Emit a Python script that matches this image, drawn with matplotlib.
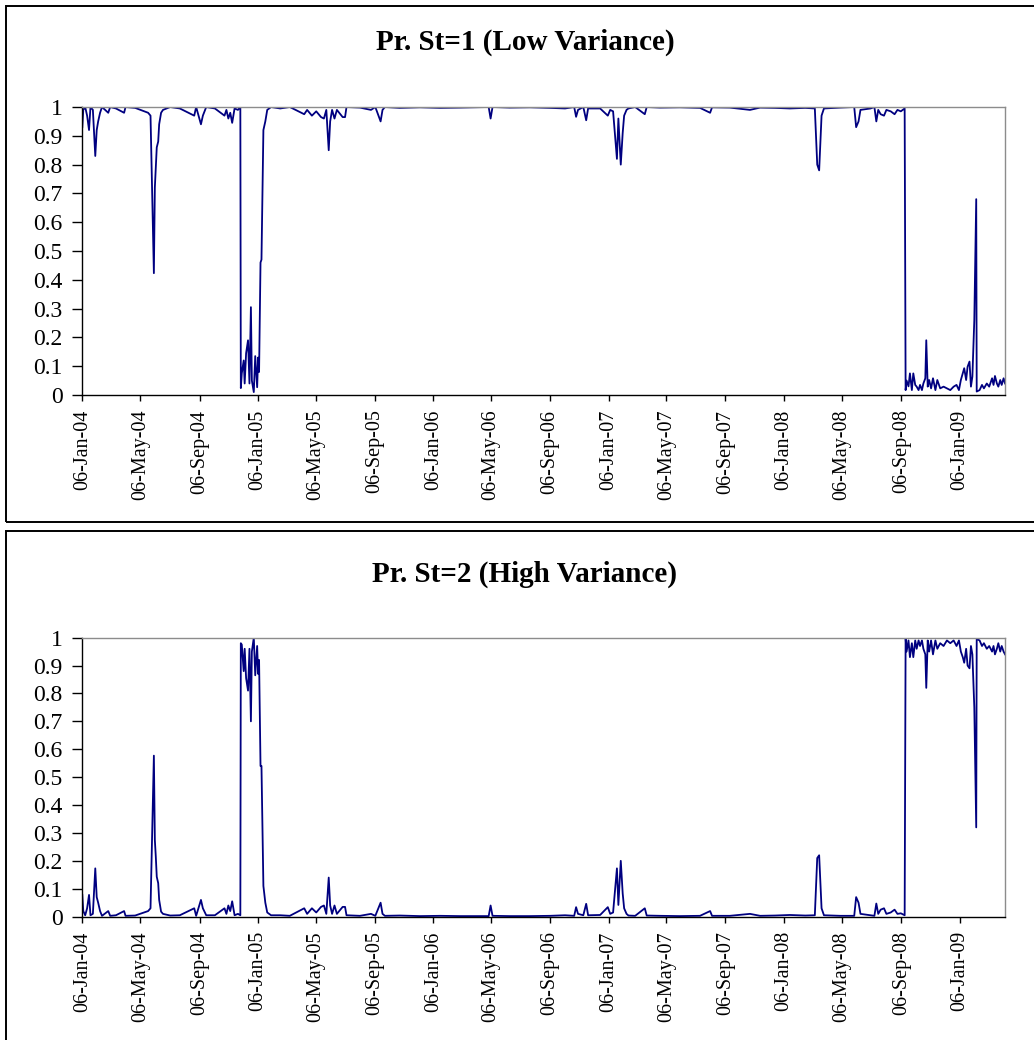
import datetime as dt

import matplotlib
matplotlib.use("Agg")
import matplotlib.pyplot as plt
from matplotlib.patches import Rectangle

plt.rcParams["font.family"] = ["Liberation Serif", "DejaVu Serif"]

# days counted from the first observation (06-Jan-04)
START = "2004-01-06"
END_DAY = 1921

days = [
    0, 2, 6, 10, 14, 17, 22, 27, 30, 33,
    37, 41, 54, 58, 70, 87, 90, 110, 137, 142,
    149, 151, 153, 155, 158, 160, 164, 168, 183, 203,
    233, 237, 247, 251, 258, 276, 296, 300, 304, 308,
    312, 317, 324, 329, 330, 332, 336, 338, 341, 345,
    348, 351, 353, 357, 360, 364, 366, 368, 371, 373,
    377, 381, 385, 393, 412, 432, 462, 468, 478, 487,
    497, 503, 508, 513, 516, 520, 525, 530, 542, 547,
    550, 578, 601, 610, 621, 625, 630, 661, 703, 745,
    786, 846, 850, 854, 890, 932, 974, 1005, 1024, 1028,
    1032, 1043, 1049, 1053, 1078, 1094, 1099, 1105, 1113, 1116,
    1121, 1125, 1128, 1133, 1137, 1151, 1171, 1175, 1203, 1244,
    1286, 1307, 1311, 1348, 1390, 1411, 1442, 1473, 1505, 1525,
    1530, 1534, 1539, 1544, 1578, 1607, 1611, 1616, 1620, 1641,
    1649, 1653, 1657, 1662, 1669, 1674, 1683, 1691, 1697, 1704,
    1712, 1714, 1716, 1720, 1723, 1727, 1730, 1734, 1737, 1741,
    1744, 1748, 1751, 1755, 1757, 1760, 1763, 1767, 1771, 1776,
    1780, 1786, 1793, 1800, 1807, 1814, 1820, 1825, 1829, 1833,
    1836, 1840, 1843, 1847, 1850, 1853, 1857, 1861, 1862, 1868,
    1873, 1877, 1883, 1888, 1894, 1897, 1900, 1904, 1907, 1911,
    1914, 1918, 1921,
]

# Pr. St=1 (low variance regime)
p_low = [
    0.93, 0.99, 1.00, 0.97, 0.92, 1.00, 0.99, 0.83, 0.92, 0.95,
    0.98, 1.00, 0.98, 1.00, 0.995, 0.98, 1.00, 0.997, 0.98, 0.97,
    0.423, 0.72, 0.79, 0.86, 0.88, 0.94, 0.98, 0.99, 1.00, 0.995,
    0.97, 1.00, 0.94, 0.97, 1.00, 0.995, 0.97, 0.99, 0.96, 0.98,
    0.945, 0.995, 0.99, 1.00, 0.024, 0.075, 0.12, 0.04, 0.145, 0.19,
    0.04, 0.305, 0.05, 0.01, 0.135, 0.027, 0.13, 0.08, 0.46, 0.47,
    0.92, 0.95, 0.99, 1.00, 0.995, 1.00, 0.975, 0.99, 0.97, 0.985,
    0.965, 0.96, 0.99, 0.85, 0.95, 0.99, 0.96, 0.99, 0.965, 0.965,
    1.00, 0.998, 0.99, 1.00, 0.95, 0.99, 1.00, 0.997, 0.999, 0.997,
    0.998, 1.00, 0.96, 1.00, 0.998, 0.999, 0.997, 0.995, 1.00, 0.966,
    0.99, 1.00, 0.954, 0.995, 0.995, 0.97, 0.99, 0.985, 0.82, 0.96,
    0.80, 0.91, 0.97, 0.99, 0.995, 1.00, 0.975, 1.00, 0.998, 0.999,
    0.997, 0.98, 0.999, 0.998, 0.99, 0.998, 0.997, 0.995, 0.997, 0.995,
    0.80, 0.78, 0.97, 0.995, 0.998, 1.00, 0.93, 0.95, 0.99, 0.995,
    1.00, 0.95, 0.99, 0.975, 0.97, 0.99, 0.985, 0.975, 0.99, 0.985,
    0.995, 0.017, 0.05, 0.03, 0.075, 0.017, 0.075, 0.035, 0.029, 0.017,
    0.035, 0.017, 0.04, 0.058, 0.19, 0.029, 0.052, 0.023, 0.058, 0.017,
    0.052, 0.023, 0.029, 0.023, 0.017, 0.029, 0.035, 0.017, 0.052, 0.075,
    0.093, 0.052, 0.098, 0.116, 0.029, 0.064, 0.26, 0.68, 0.012, 0.017,
    0.035, 0.023, 0.04, 0.029, 0.058, 0.035, 0.066, 0.04, 0.029, 0.052,
    0.035, 0.058, 0.04,
]

# Pr. St=2 (high variance regime)
p_high = [
    0.078, 0.02, 0.005, 0.03, 0.078, 0.005, 0.01, 0.173, 0.07, 0.05,
    0.02, 0.003, 0.02, 0.003, 0.005, 0.02, 0.003, 0.004, 0.02, 0.03,
    0.577, 0.275, 0.215, 0.143, 0.12, 0.06, 0.018, 0.01, 0.004, 0.005,
    0.03, 0.003, 0.06, 0.03, 0.005, 0.005, 0.03, 0.01, 0.04, 0.02,
    0.055, 0.005, 0.01, 0.005, 0.98, 0.975, 0.88, 0.96, 0.855, 0.81,
    0.96, 0.70, 0.95, 1.00, 0.865, 0.97, 0.87, 0.92, 0.54, 0.54,
    0.11, 0.05, 0.015, 0.005, 0.005, 0.003, 0.03, 0.01, 0.03, 0.015,
    0.035, 0.04, 0.01, 0.14, 0.04, 0.01, 0.04, 0.01, 0.035, 0.035,
    0.005, 0.003, 0.01, 0.003, 0.05, 0.01, 0.003, 0.004, 0.002, 0.003,
    0.002, 0.002, 0.04, 0.003, 0.002, 0.002, 0.003, 0.005, 0.003, 0.034,
    0.01, 0.005, 0.046, 0.005, 0.006, 0.034, 0.01, 0.015, 0.173, 0.042,
    0.20, 0.083, 0.03, 0.01, 0.004, 0.003, 0.03, 0.004, 0.003, 0.002,
    0.003, 0.02, 0.003, 0.003, 0.01, 0.003, 0.004, 0.006, 0.004, 0.005,
    0.21, 0.22, 0.03, 0.005, 0.003, 0.003, 0.07, 0.05, 0.01, 0.005,
    0.003, 0.047, 0.01, 0.025, 0.03, 0.01, 0.015, 0.025, 0.01, 0.012,
    0.005, 0.998, 0.95, 0.99, 0.93, 0.98, 0.93, 0.99, 0.96, 0.99,
    0.97, 0.99, 0.96, 0.94, 0.82, 0.99, 0.95, 0.99, 0.94, 0.99,
    0.96, 0.98, 0.97, 0.99, 0.98, 0.99, 0.97, 0.99, 0.95, 0.93,
    0.91, 0.96, 0.90, 0.89, 0.97, 0.94, 0.75, 0.32, 0.995, 0.99,
    0.97, 0.98, 0.96, 0.97, 0.95, 0.97, 0.94, 0.96, 0.98, 0.95,
    0.97, 0.95, 0.94,
]

tick_labels = [
    "06-Jan-04", "06-May-04", "06-Sep-04", "06-Jan-05", "06-May-05",
    "06-Sep-05", "06-Jan-06", "06-May-06", "06-Sep-06", "06-Jan-07",
    "06-May-07", "06-Sep-07", "06-Jan-08", "06-May-08", "06-Sep-08",
    "06-Jan-09",
]
y_ticks = [0, 0.1, 0.2, 0.3, 0.4, 0.5, 0.6, 0.7, 0.8, 0.9, 1]
y_tick_labels = ["0", "0.1", "0.2", "0.3", "0.4", "0.5", "0.6", "0.7", "0.8", "0.9", "1"]
titles = ["Pr. St=1 (Low Variance)", "Pr. St=2 (High Variance)"]

assert len(days) == len(p_low) == len(p_high)

LINE_COLOR = "#000080"

start = dt.datetime.strptime(START, "%Y-%m-%d")
dates = [start + dt.timedelta(days=d) for d in days]
tick_pos = [dt.datetime.strptime(s, "%d-%b-%y") for s in tick_labels]

fig = plt.figure(figsize=(10.34, 10.40), dpi=100)


def draw_panel(ax_rect, box_rect, title_y, values, title):
    # outer chart frame (Excel style)
    fig.add_artist(Rectangle(box_rect[:2], box_rect[2], box_rect[3],
                             transform=fig.transFigure, fill=False,
                             edgecolor="black", linewidth=1.4))
    ax = fig.add_axes(ax_rect)
    ax.plot(dates, values, color=LINE_COLOR, linewidth=1.3)
    ax.set_xlim(start, start + dt.timedelta(days=END_DAY))
    ax.set_ylim(0, 1)
    ax.set_yticks(y_ticks)
    ax.set_yticklabels(y_tick_labels)
    ax.set_xticks(tick_pos)
    ax.set_xticklabels(tick_labels, rotation=90)
    ax.tick_params(axis="y", length=7, width=1, pad=7, labelsize=17)
    ax.tick_params(axis="x", length=4.5, width=1, pad=6, labelsize=14.5)
    for side in ("left", "bottom"):
        ax.spines[side].set_color("black")
        ax.spines[side].set_linewidth(1.0)
    for side in ("top", "right"):
        ax.spines[side].set_color("#8c8c8c")
        ax.spines[side].set_linewidth(1.0)
    fig.text(0.5077, title_y, title, ha="center", va="center",
             fontsize=21, fontweight="bold")
    return ax


draw_panel([0.0796, 0.6202, 0.8924, 0.2769], [0.0058, 0.4981, 1.2, 0.4962],
           0.9596, p_low, titles[0])
draw_panel([0.0796, 0.1186, 0.8924, 0.2683], [0.0058, -0.1, 1.2, 0.5894],
           0.4481, p_high, titles[1])

fig.savefig("out.png", dpi=100)
